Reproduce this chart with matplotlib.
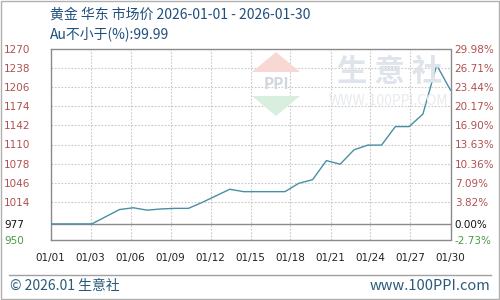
import matplotlib
matplotlib.use("Agg")
import matplotlib.pyplot as plt
from matplotlib.patches import Polygon, Rectangle
from matplotlib.lines import Line2D
import numpy as np

plt.rcParams['font.family'] = ['Noto Sans CJK SC', 'DejaVu Sans']

# ---- data ----
days = list(range(1, 31))
prices = [977, 977, 977, 977, 989, 1001, 1004, 1000, 1002, 1003,
          1003, 1013, 1024, 1035, 1031, 1031, 1031, 1031, 1045, 1051,
          1083, 1077, 1101, 1109, 1109, 1140, 1140, 1161, 1243, 1201]
y_ticks = [950, 977, 1014, 1046, 1078, 1110, 1142, 1174, 1206, 1238, 1270]
y_labels = ["950", "977", "1014", "1046", "1078", "1110", "1142", "1174", "1206", "1238", "1270"]
pct_labels = ["-2.73%", "0.00%", "3.82%", "7.09%", "10.36%", "13.63%", "16.90%",
              "20.17%", "23.44%", "26.71%", "29.98%"]
x_labels = ["01/01", "01/03", "01/06", "01/09", "01/12", "01/15", "01/18",
            "01/21", "01/24", "01/27", "01/30"]
title1 = "黄金 华东 市场价 2026-01-01 - 2026-01-30"
title2 = "Au不小于(%):99.99"
base = 977

W, H = 500, 300
fig = plt.figure(figsize=(5, 3), dpi=100)
fig.patch.set_facecolor('white')

def fx(px):
    return px / W

def fy(py):
    return 1 - py / H

left, right, top, bottom = 50.5, 450.5, 49, 240
ax = fig.add_axes([fx(left), fy(bottom), fx(right - left), (bottom - top) / H])
ax.set_xlim(days[0], days[-1])
ax.set_ylim(y_ticks[0], y_ticks[-1])

# grid
xt = np.linspace(days[0], days[-1], len(x_labels))
for x in xt[1:-1]:
    ax.axvline(x, color='#c8c8c8', lw=0.8, ls=(0, (1.5, 1.5)), zorder=1)
for y in y_ticks[1:-1]:
    if y == base:
        ax.axhline(y, color='#8a8a8a', lw=1.0, zorder=1)
    else:
        ax.axhline(y, color='#c8c8c8', lw=0.8, ls=(0, (1.5, 1.5)), zorder=1)

# watermark
fig.text(fx(390), fy(72), "生 意 社", fontsize=22, color='#dfe4ea', ha='center', va='center',
         fontweight='bold', zorder=0)
fig.text(fx(388), fy(101), "WWW.100PPI.COM", fontsize=10, color='#e6eaee', ha='center',
         va='center', zorder=0)
cx, cy = 276, 84
fig.patches.append(Polygon([[fx(cx), fy(52)], [fx(cx + 24), fy(cy - 12)], [fx(cx - 24), fy(cy - 12)]],
                           closed=True, transform=fig.transFigure, facecolor='#f8d8d2', edgecolor='none', zorder=0))
fig.patches.append(Polygon([[fx(cx - 24), fy(cy + 12)], [fx(cx + 24), fy(cy + 12)], [fx(cx), fy(116)]],
                           closed=True, transform=fig.transFigure, facecolor='#d8eedf', edgecolor='none', zorder=0))
fig.text(fx(cx), fy(cy), "PPI", fontsize=11, color='#d0d6de', ha='center', va='center',
         fontweight='bold', zorder=0)

ax.patch.set_alpha(0)
ax.plot(days, prices, color='#4a8ea6', lw=1.0, zorder=3)

for s in ax.spines.values():
    s.set_color('#8a8a8a')
    s.set_linewidth(1.0)

ax.set_xticks(xt)
ax.set_xticklabels(x_labels, fontsize=7.5, color='#222222', family='DejaVu Sans')
ax.tick_params(axis='x', length=0, pad=9)

ax.set_yticks(y_ticks)
ax.set_yticklabels(y_labels, fontsize=7.5, ha='left', family='DejaVu Sans')
ax.tick_params(axis='y', length=0, pad=33.5)

def col(v):
    if v < base:
        return '#4a9a4a'
    if v == base:
        return '#111111'
    return '#b05050'

for i, t in enumerate(ax.get_yticklabels()):
    t.set_color(col(y_ticks[i]))

ax2 = ax.twinx()
ax2.set_ylim(ax.get_ylim())
ax2.set_yticks(y_ticks)
ax2.set_yticklabels(pct_labels, fontsize=7.5, family='DejaVu Sans')
ax2.tick_params(axis='y', length=0, pad=3)
for i, t in enumerate(ax2.get_yticklabels()):
    t.set_color(col(y_ticks[i]))
for s in ax2.spines.values():
    s.set_visible(False)

# titles
fig.text(fx(50), fy(15), title1, fontsize=10, color='#1f4f7f', ha='left', va='center')
fig.text(fx(50), fy(34), title2, fontsize=10, color='#1f4f7f', ha='left', va='center')

# footer
fig.add_artist(Line2D([fx(9), fx(491)], [fy(275), fy(275)], color='#a0a0a0', lw=1.0,
                      transform=fig.transFigure))
fig.text(fx(10), fy(286), "© 2026.01 生意社", fontsize=10, color='#2a5a7a', ha='left', va='center')
fig.text(fx(490), fy(286), "www.100PPI.com", fontsize=10.5, color='#2a5a7a', ha='right', va='center')

# outer border
fig.patches.append(Rectangle((0.001, 0.002), 0.997, 0.996, transform=fig.transFigure,
                             fill=False, edgecolor='#b0b0b0', lw=1.0))

fig.savefig("out.png", dpi=100)
